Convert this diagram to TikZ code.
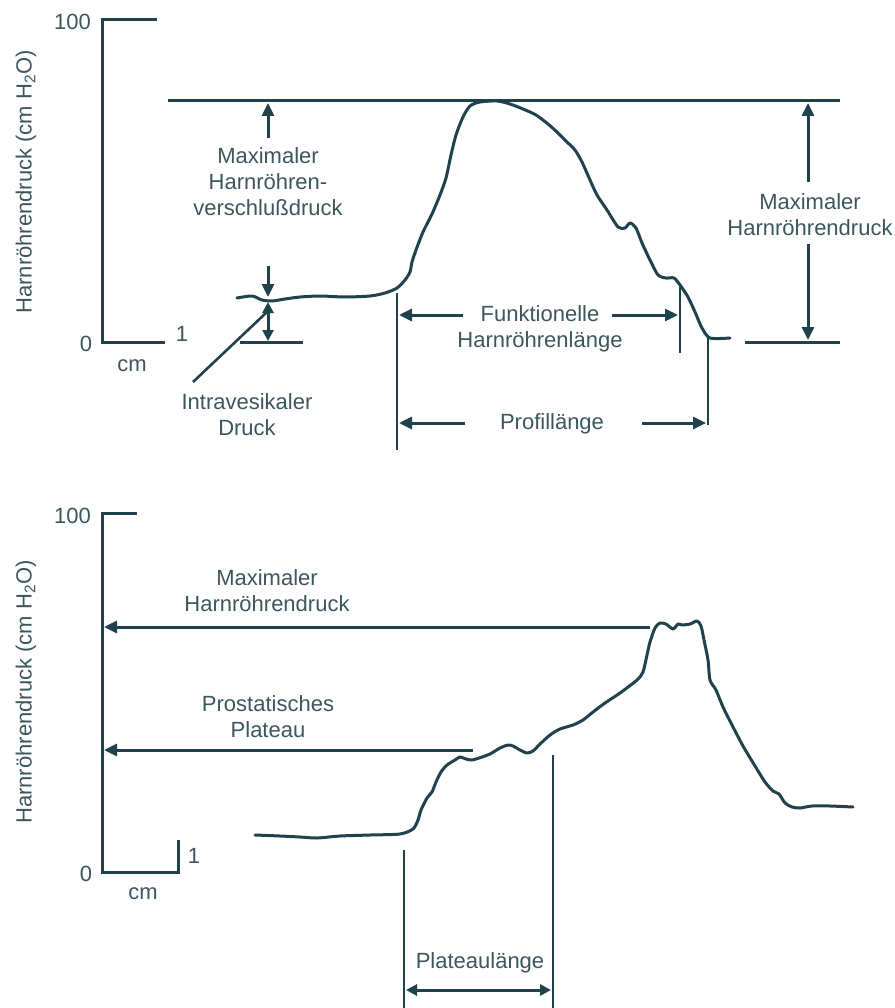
\documentclass[tikz,border=0pt]{standalone}
\usepackage{fontspec}
\setmainfont{Liberation Sans}
\usetikzlibrary{arrows.meta}
\definecolor{ink}{RGB}{32,66,76}
\definecolor{txt}{RGB}{60,86,94}
\begin{document}
\begin{tikzpicture}[x=1pt,y=-1pt,
  axisline/.style={draw=ink, line width=3pt, line join=miter},
  thinline/.style={draw=ink, line width=1.4pt},
  curveline/.style={draw=ink, line width=3pt, line join=round, line cap=round},
  arr/.style={draw=ink, line width=3pt, -{Triangle[length=13pt,width=12pt]}},
  darr/.style={draw=ink, line width=3pt, {Triangle[length=11pt,width=11pt]}-{Triangle[length=11pt,width=11pt]}},
  lbl/.style={text=txt, font=\fontsize{22}{26}\selectfont, align=center, inner sep=0pt},
]
\useasboundingbox (0,0) rectangle (894,1008);

% ===================== TOP PANEL =====================
\draw[axisline] (157,20) -- (102,20) -- (102,342) -- (165,342);
\node[lbl, anchor=east] (ta100) at (91,22) {100};
\node[lbl] (ta0) at (86,344) {0};
\node[lbl] (ta1) at (182,334) {1};
\node[lbl] (tacm) at (132,366) {cm};
\node[lbl, rotate=90] (taylab) at (26,182) {Harnröhrendruck (cm H\textsubscript{2}O)};

% max line
\coordinate (maxA) at (168,101);
\coordinate (maxB) at (840,101);
\draw[axisline] (maxA) -- (maxB);

% left label + arrow up
\node[lbl] (mhv) at (268,182) {Maximaler\\Harnröhren-\\verschlußdruck};
\coordinate (mhvtip) at (268,103);
\draw[arr] ([yshift=10pt]mhv.north) -- (mhvtip);

% intravesical
\coordinate (ivA) at (268,266);
\coordinate (ivB) at (268,297);
\coordinate (ivC) at (268,302);
\coordinate (ivD) at (268,341);
\draw[arr] (ivA) -- (ivB);
\draw[darr] (ivC) -- (ivD);
\draw[axisline] (240,342) -- (303,342);
\node[lbl] (ivd) at (247,415) {Intravesikaler\\Druck};
\coordinate (ivpt) at (267,312);
\draw[draw=ink, line width=2.6pt] (193,382) -- (ivpt);

% curve top
\draw[curveline] plot[smooth, tension=0.45] coordinates {
(237,298) (252,296) (262,300) (272,301) (285,299) (300,297) (320,296) (345,297)
(370,296) (385,293) (397,288) (405,280) (410,272) (412,262) (416,250) (423,232)
(432,214) (440,195) (446,178) (451,155) (456,135) (463,117) (470,106) (480,102)
(497,101) (510,104) (523,109) (536,115) (548,124) (558,133) (567,142) (575,150)
(582,162) (590,180) (597,195) (607,210) (618,227) (625,228) (630,223) (636,228)
(642,243) (650,260) (658,275) (666,278) (674,278) (680,285) (688,297) (695,312)
(702,328) (710,338) (730,338)};
\draw[axisline] (745,342) -- (840,342);

% right label + arrows
\node[lbl] (mhr) at (810,215) {Maximaler\\Harnröhrendruck};
\coordinate (mhrtop) at (808,103);
\coordinate (mhrbot) at (808,340);
\draw[arr] ([yshift=12pt]mhr.north -| mhrtop) -- (mhrtop);
\draw[arr] ([yshift=-8pt]mhr.south -| mhrbot) -- (mhrbot);

% functional length
\draw[thinline] (397,293) -- (397,450);
\draw[thinline] (680,287) -- (680,353);
\draw[thinline] (708,338) -- (708,425);
\node[lbl] (fhl) at (540,329) {Funktionelle\\Harnröhrenlänge};
\coordinate (fL) at (399,315);
\coordinate (fR) at (678,315);
\draw[arr] (463,315) -- (fL);
\draw[arr] (612,315) -- (fR);

% profile length
\node[lbl] (pl) at (552,424) {Profillänge};
\coordinate (pL) at (399,423);
\coordinate (pR) at (706,423);
\draw[arr] (465,423) -- (pL);
\draw[arr] (642,423) -- (pR);

% ===================== BOTTOM PANEL =====================
\draw[axisline] (137,513) -- (102,513) -- (102,872) -- (178,872) -- (178,840);
\node[lbl, anchor=east] (ba100) at (91,516) {100};
\node[lbl] (ba0) at (86,874) {0};
\node[lbl] (ba1) at (194,856) {1};
\node[lbl] (bacm) at (143,894) {cm};
\node[lbl, rotate=90] (baylab) at (26,692) {Harnröhrendruck (cm H\textsubscript{2}O)};

\node[lbl] (mhb) at (267,591) {Maximaler\\Harnröhrendruck};
\coordinate (mhbR) at (650,627);
\coordinate (mhbL) at (104,627);
\draw[arr] (mhbR) -- (mhbL);

\node[lbl] (ppl) at (268,717) {Prostatisches\\Plateau};
\coordinate (pplR) at (473,750);
\coordinate (pplL) at (104,750);
\draw[arr] (pplR) -- (pplL);

\draw[curveline] plot[smooth, tension=0.45] coordinates {
(255,835) (280,836) (300,837) (317,838) (340,836) (370,835) (400,834) (413,829)
(418,820) (421,810) (427,798) (432,792) (436,782) (441,772) (447,765) (455,760)
(460,757) (466,759) (472,760) (482,757) (490,754) (500,748) (508,745) (513,746)
(520,750) (527,753) (533,751) (540,744) (550,735) (560,729) (573,725) (583,720)
(593,712) (605,703) (620,693) (637,680) (643,672) (647,655) (650,642) (655,628)
(660,623) (666,624) (673,629) (678,624) (682,625) (690,624) (697,621) (701,626)
(704,640) (708,660) (710,680) (716,690) (723,707) (732,725) (743,746) (755,766)
(765,782) (773,791) (779,794) (785,803) (792,807) (800,808) (812,806) (830,806)
(853,807)};

\draw[thinline] (404,850) -- (404,1008);
\draw[thinline] (553,755) -- (553,1008);
\node[lbl] (plat) at (480,963) {Plateaulänge};
\coordinate (platL) at (406,990);
\coordinate (platR) at (551,990);
\draw[darr] (platL) -- (platR);
\end{tikzpicture}
\end{document}
